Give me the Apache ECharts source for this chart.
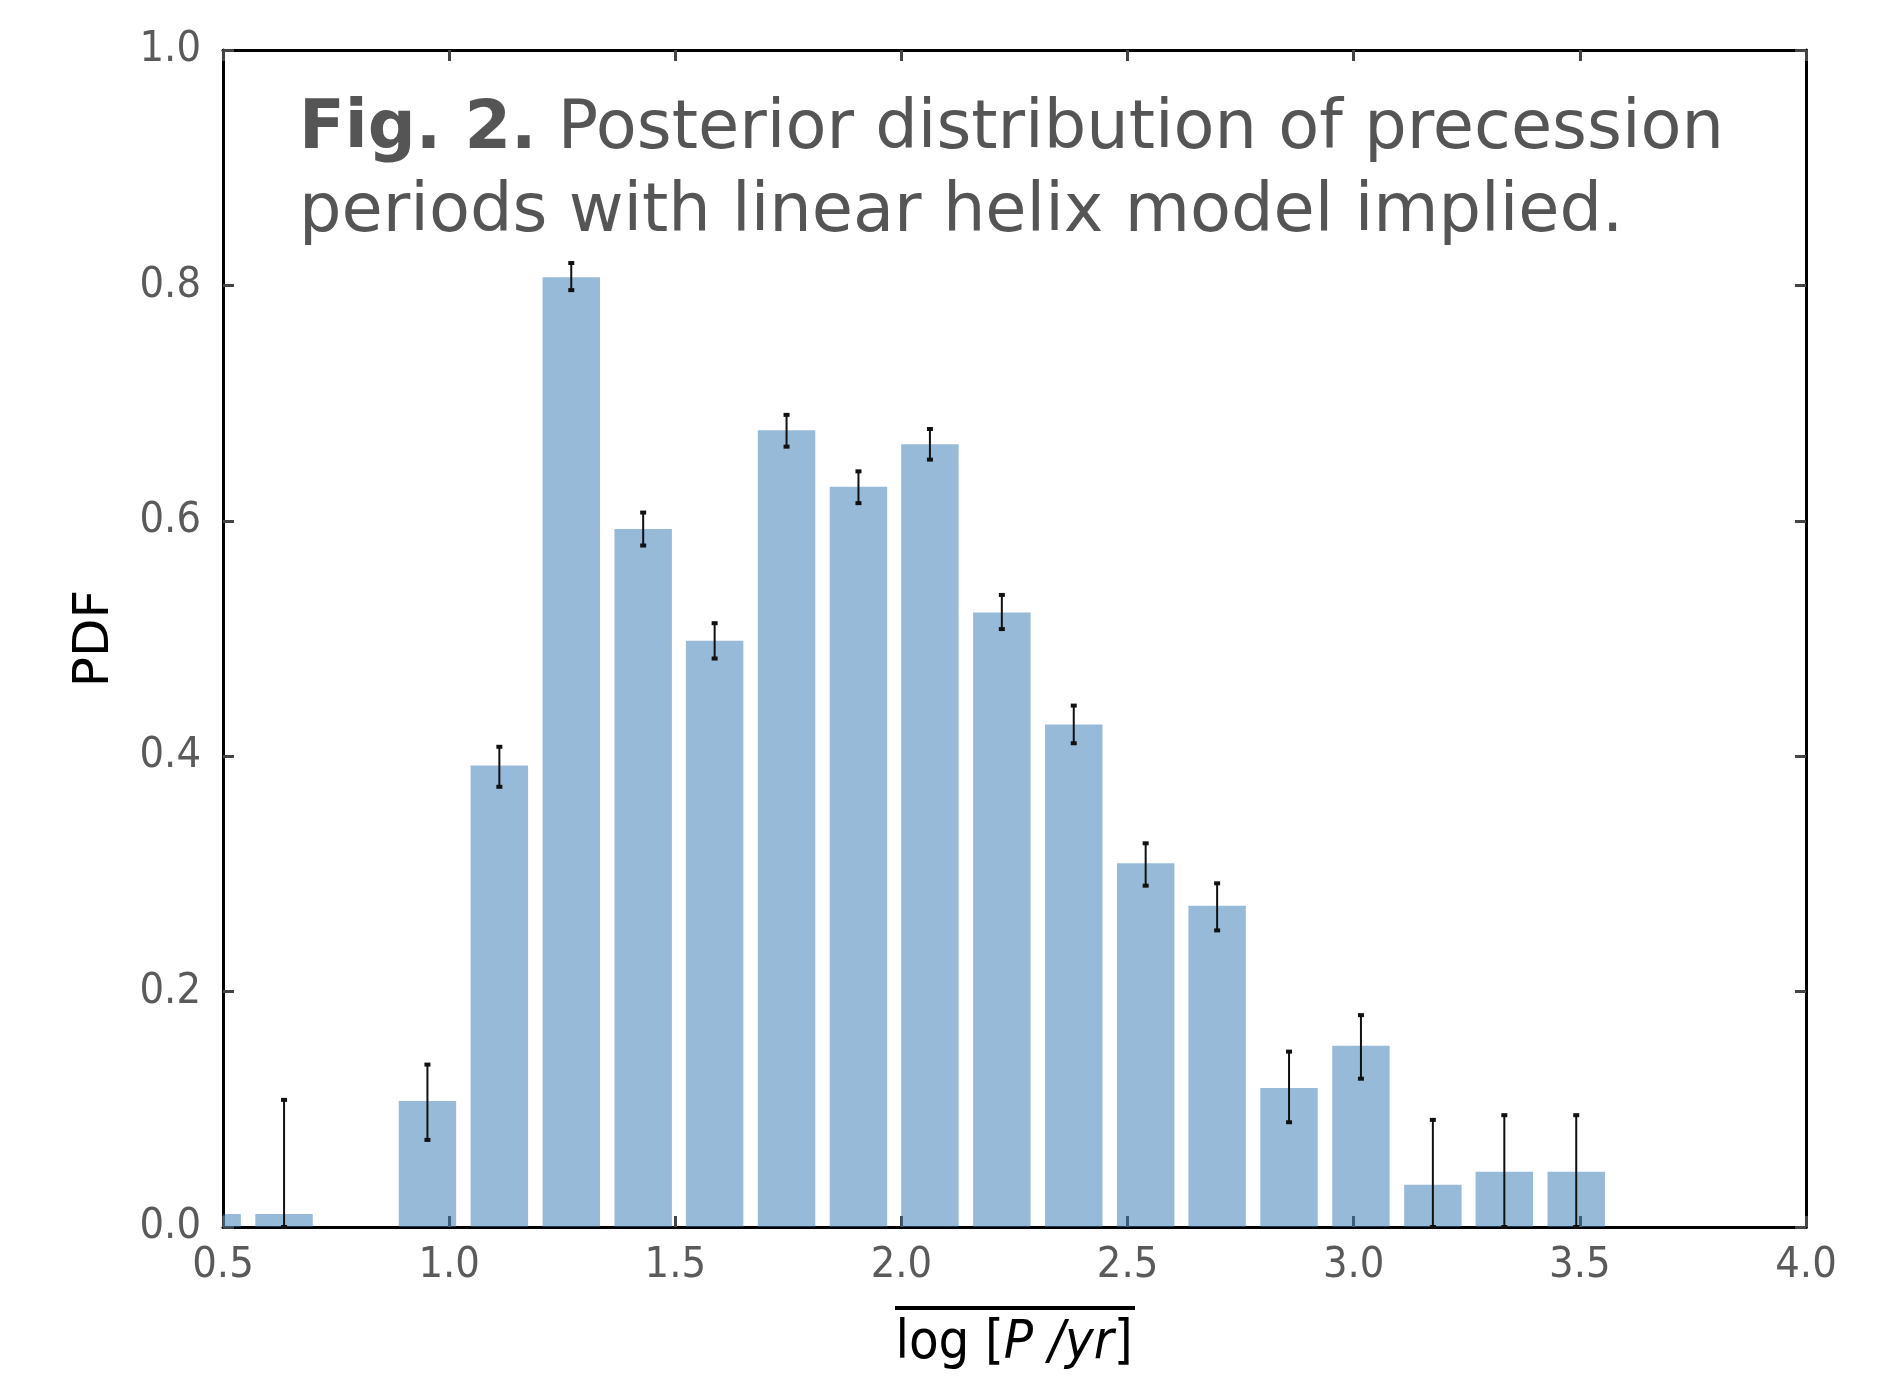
<!DOCTYPE html>
<html>
<head>
<meta charset="utf-8">
<script src="https://cdn.jsdelivr.net/npm/echarts@6/dist/echarts.min.js"></script>
<style>
  html, body { margin: 0; padding: 0; background: #fff; }
  #chart { width: 1877px; height: 1376px; }
</style>
</head>
<body>
<div id="chart"></div>
<script>
  // histogram bins (log P / yr)
  var binCenters = [0.476, 0.635, 0.794, 0.952, 1.111, 1.270, 1.429, 1.587, 1.746, 1.905,
                    2.063, 2.222, 2.381, 2.540, 2.698, 2.857, 3.016, 3.175, 3.333, 3.492];
  var pdfValues  = [0.011, 0.011, 0.000, 0.107, 0.392, 0.807, 0.593, 0.498, 0.677, 0.629,
                    0.665, 0.522, 0.427, 0.309, 0.273, 0.118, 0.154, 0.036, 0.047, 0.047];
  // error bar ends (null = no error bar drawn)
  var errLow  = [null, 0.000, null, 0.074, 0.374, 0.796, 0.579, 0.483, 0.663, 0.615,
                 0.652, 0.508, 0.411, 0.290, 0.252, 0.089, 0.126, 0.000, 0.000, 0.000];
  var errHigh = [null, 0.108, null, 0.138, 0.408, 0.819, 0.607, 0.513, 0.690, 0.642,
                 0.678, 0.537, 0.443, 0.326, 0.292, 0.149, 0.180, 0.091, 0.095, 0.095];
  var xTickLabels = ['0.5', '1.0', '1.5', '2.0', '2.5', '3.0', '3.5', '4.0'];
  var yTickLabels = ['0.0', '0.2', '0.4', '0.6', '0.8', '1.0'];

  var halfBar = 0.0635;
  var barColor = 'rgba(47,117,179,0.5)';
  var tickFont = "'DejaVu Sans Condensed', 'DejaVu Sans', sans-serif";
  var titleFont = "'DejaVu Sans', sans-serif";

  var barData = binCenters.map(function (c, i) { return [c, pdfValues[i]]; });
  var errData = [];
  binCenters.forEach(function (c, i) {
    if (errLow[i] !== null) errData.push([c, errLow[i], errHigh[i]]);
  });

  function renderBar(params, api) {
    var c = api.value(0), v = api.value(1);
    if (!v) return;
    var p0 = api.coord([c - halfBar, v]);
    var p1 = api.coord([c + halfBar, 0]);
    var rect = echarts.graphic.clipRectByRect(
      { x: p0[0], y: p0[1], width: p1[0] - p0[0], height: p1[1] - p0[1] },
      { x: params.coordSys.x, y: params.coordSys.y, width: params.coordSys.width, height: params.coordSys.height }
    );
    if (!rect) return;
    return { type: 'rect', shape: rect, style: { fill: barColor } };
  }

  function renderErr(params, api) {
    var c = api.value(0);
    var lo = api.coord([c, api.value(1)]);
    var hi = api.coord([c, api.value(2)]);
    var cap = 3;
    return {
      type: 'group',
      children: [
        { type: 'line', shape: { x1: lo[0], y1: lo[1], x2: hi[0], y2: hi[1] }, style: { stroke: '#111', lineWidth: 2 } },
        { type: 'line', shape: { x1: hi[0] - cap, y1: hi[1], x2: hi[0] + cap, y2: hi[1] }, style: { stroke: '#111', lineWidth: 4 } },
        { type: 'line', shape: { x1: lo[0] - cap, y1: lo[1], x2: lo[0] + cap, y2: lo[1] }, style: { stroke: '#111', lineWidth: 4 } }
      ]
    };
  }

  var myChart = echarts.init(document.getElementById('chart'));

  function axisCommon(showLabel, labels) {
    return {
      axisLine: { show: true, onZero: false, lineStyle: { color: '#000', width: 3 } },
      axisTick: { show: true, inside: true, length: 11, lineStyle: { color: '#444', width: 3 } },
      splitLine: { show: false },
      axisLabel: {
        show: showLabel,
        color: '#5a5a5a',
        fontFamily: tickFont,
        fontSize: 43,
        formatter: function (v) {
          var s = v.toFixed(1);
          return labels.indexOf(s) >= 0 ? s : '';
        }
      }
    };
  }

  var xBottom = Object.assign({ type: 'value', min: 0.5, max: 4.0, interval: 0.5, position: 'bottom' }, axisCommon(true, xTickLabels));
  xBottom.axisLabel.margin = 17;
  var xTop = Object.assign({ type: 'value', min: 0.5, max: 4.0, interval: 0.5, position: 'top' }, axisCommon(false, xTickLabels));
  var yLeft = Object.assign({
    type: 'value', min: 0, max: 1, interval: 0.2, position: 'left',
    name: 'PDF', nameLocation: 'middle', nameRotate: 90, nameGap: 103,
    nameTextStyle: { color: '#000', fontFamily: "'DejaVu Sans', sans-serif", fontSize: 50 }
  }, axisCommon(true, yTickLabels));
  yLeft.axisLabel.margin = 22;
  var yRight = Object.assign({ type: 'value', min: 0, max: 1, interval: 0.2, position: 'right' }, axisCommon(false, yTickLabels));

  myChart.setOption({
    backgroundColor: '#fff',
    animation: false,
    grid: { left: 223, right: 71, top: 50, bottom: 149, containLabel: false },
    xAxis: [xBottom, xTop],
    yAxis: [yLeft, yRight],
    series: [
      { type: 'custom', name: 'PDF', renderItem: renderBar, data: barData, encode: { x: 0, y: 1 }, z: 2 },
      { type: 'custom', name: 'error', renderItem: renderErr, data: errData, encode: { x: 0, y: [1, 2] }, z: 3 }
    ],
    graphic: [
      {
        type: 'text', x: 299, y: 131, z: 10,
        style: {
          text: '{b|Fig. 2.}{r| Posterior distribution of precession}',
          verticalAlign: 'middle',
          rich: {
            b: { fontFamily: titleFont, fontWeight: 'bold', fontSize: 67, fill: '#555' },
            r: { fontFamily: titleFont, fontSize: 67, fill: '#555' }
          }
        }
      },
      {
        type: 'text', x: 299, y: 214, z: 10,
        style: { text: 'periods with linear helix model implied.', verticalAlign: 'middle', fontFamily: titleFont, fontSize: 67, fill: '#555' }
      },
      {
        type: 'text', x: 1014, y: 1344, z: 10,
        style: {
          text: '{n|log [}{i|P /yr}{n|]}',
          align: 'center', verticalAlign: 'middle',
          rich: {
            n: { fontFamily: tickFont, fontSize: 54, fill: '#000' },
            i: { fontFamily: tickFont, fontStyle: 'italic', fontSize: 54, fill: '#000' }
          }
        }
      },
      {
        type: 'line', z: 10,
        shape: { x1: 895, y1: 1308, x2: 1135, y2: 1308 },
        style: { stroke: '#000', lineWidth: 4 }
      }
    ]
  });
</script>
</body>
</html>
